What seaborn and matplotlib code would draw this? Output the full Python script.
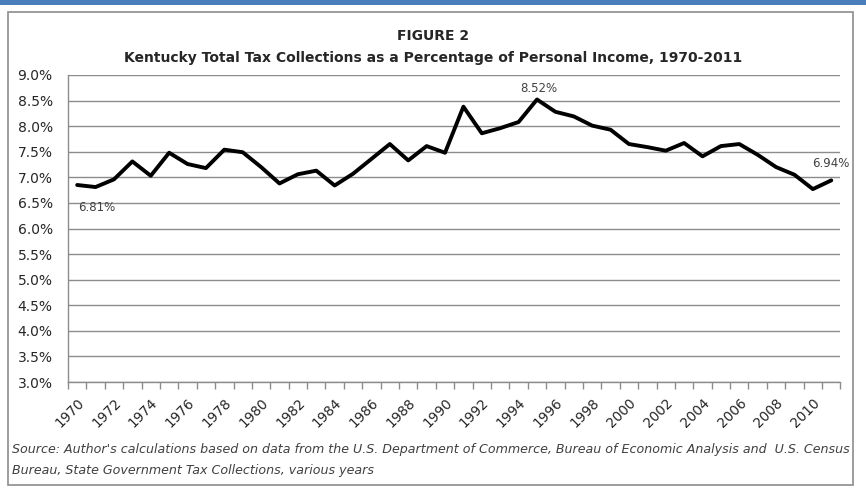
import pandas as pd
import matplotlib.pyplot as plt
import matplotlib.transforms as mtransforms
import seaborn as sns
from matplotlib.patches import Rectangle

years = list(range(1970, 2012))
tax_pct = [6.85, 6.81, 6.96, 7.31, 7.03, 7.48, 7.26, 7.18, 7.54, 7.49,
           7.20, 6.88, 7.06, 7.13, 6.84, 7.07, 7.36, 7.65, 7.33, 7.61,
           7.48, 8.38, 7.86, 7.96, 8.08, 8.52, 8.28, 8.19, 8.01, 7.93,
           7.65, 7.59, 7.52, 7.67, 7.41, 7.61, 7.65, 7.44, 7.20, 7.05,
           6.77, 6.94]
labeled_years = [1971, 1995, 2011]
label_text = ['6.81%', '8.52%', '6.94%']

df = pd.DataFrame({'pos': range(len(years)), 'year': years, 'pct': tax_pct})

sns.set_style('white')
plt.rcParams['font.family'] = ['DejaVu Sans']

fig = plt.figure(figsize=(8.66, 4.93), dpi=100)
ax = fig.add_axes([0.0785, 0.225, 0.892, 0.623])

sns.lineplot(x='pos', y='pct', data=df, color='black', linewidth=2.8, ax=ax)

ax.set_xlim(-0.5, len(years) - 0.5)
ax.set_ylim(3.0, 9.0)
ax.set_yticks([3.0 + 0.5 * i for i in range(13)])
ax.set_yticklabels([f'{3.0 + 0.5 * i:.1f}%' for i in range(13)], fontsize=10, color='#262626')
ax.grid(axis='y', color='#8c8c8c', linewidth=1)
ax.set_axisbelow(True)

# etiquetas cada dos años, marcas entre categorias
ax.set_xticks(df['pos'][::2])
ax.set_xticklabels(df['year'][::2], rotation=45, ha='right', rotation_mode='anchor',
                   fontsize=9.8, color='#262626')
shift = mtransforms.ScaledTranslation(3 / 100, 0, fig.dpi_scale_trans)
for lbl in ax.get_xticklabels():
    lbl.set_transform(lbl.get_transform() + shift)
ax.set_xticks([i - 0.5 for i in range(len(years) + 1)], minor=True)
ax.tick_params(axis='x', which='major', bottom=True, length=0, pad=10)
ax.tick_params(axis='x', which='minor', bottom=True, length=5, color='#8c8c8c', width=1,
               direction='out')
ax.tick_params(axis='y', length=0, pad=11)
ax.set_xlabel('')
ax.set_ylabel('')
for s in ['top', 'right']:
    ax.spines[s].set_visible(False)
for s in ['left', 'bottom']:
    ax.spines[s].set_color('#8c8c8c')
    ax.spines[s].set_linewidth(1)

# etiquetas de datos
offsets = [(1, -15), (1, 8), (0, 12)]
for yr, txt, off in zip(labeled_years, label_text, offsets):
    i = years.index(yr)
    ax.annotate(txt, (i, tax_pct[i]), xytext=off, textcoords='offset points',
                ha='center', va='center', fontsize=8.5, color='#404040')

fig.text(0.5, 0.918, 'FIGURE 2', ha='center', fontsize=10, fontweight='bold')
fig.text(0.5, 0.875, 'Kentucky Total Tax Collections as a Percentage of Personal Income, 1970-2011',
         ha='center', fontsize=10, fontweight='bold')
fig.text(0.014, 0.082, "Source: Author's calculations based on data from the U.S. Department of Commerce, "
         "Bureau of Economic Analysis and  U.S. Census", fontsize=9.1, style='italic', color='#404040')
fig.text(0.014, 0.038, 'Bureau, State Government Tax Collections, various years',
         fontsize=9.1, style='italic', color='#404040')

# marco exterior y barra azul
fig.patches.append(Rectangle((0.009, 0.016), 0.976, 0.96, transform=fig.transFigure,
                             fill=False, edgecolor='#8c8c8c', linewidth=1.2))
fig.patches.append(Rectangle((0, 0.99), 1, 0.01, transform=fig.transFigure,
                             color='#4a7ebb', linewidth=0))

plt.savefig('out.png', dpi=100)
